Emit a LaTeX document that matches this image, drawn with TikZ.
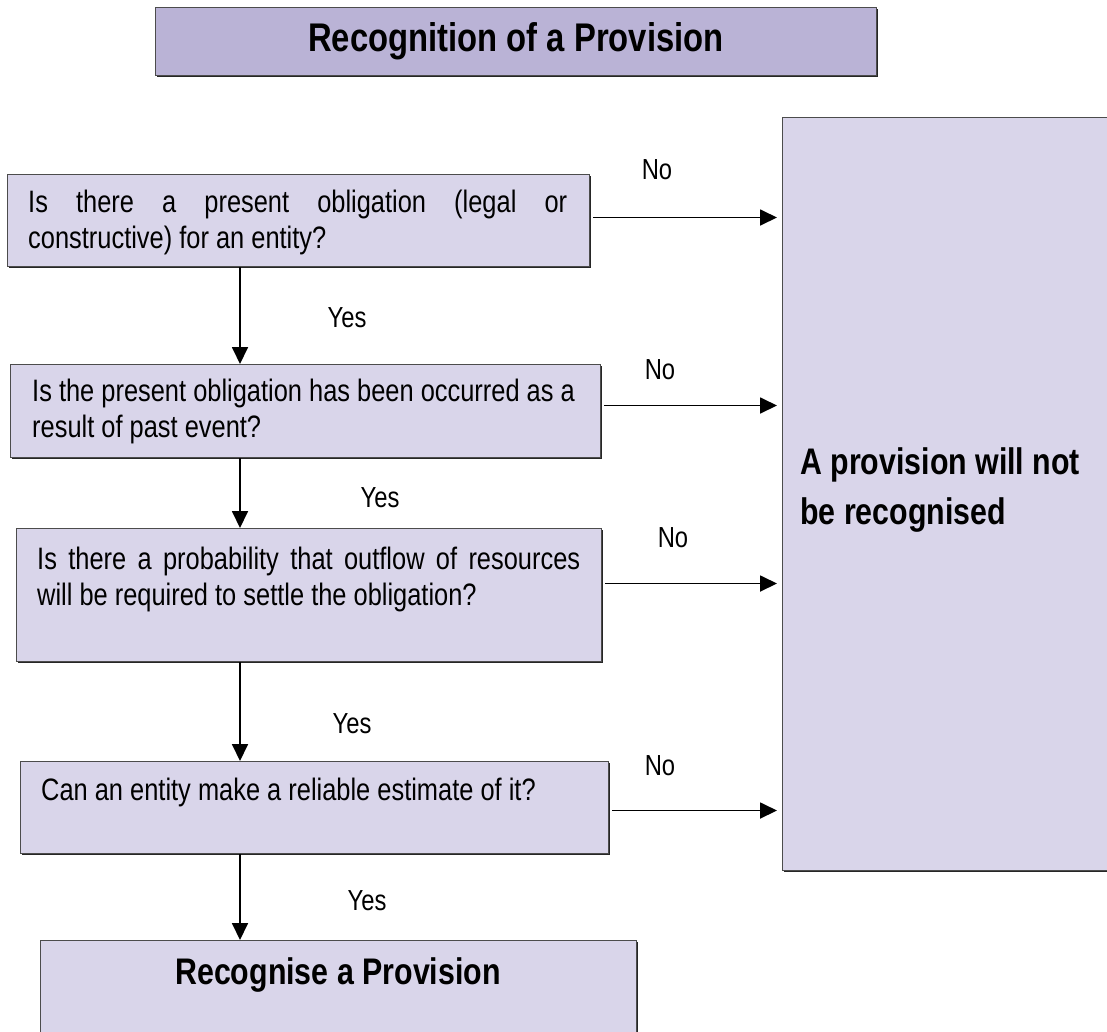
\documentclass[tikz,border=0pt]{standalone}
\usepackage{fontspec}
\setmainfont{Liberation Sans}[FakeStretch=0.82]
\usetikzlibrary{arrows.meta, shadows}
\definecolor{lilac}{HTML}{D9D5EA}
\definecolor{lilacdark}{HTML}{BAB3D6}
\hyphenpenalty=10000

\tikzset{
    box/.style={draw=black!70, line width=1pt, fill=lilac, anchor=north west, inner sep=0pt,
        drop shadow={shadow xshift=1.5pt, shadow yshift=-1.5pt, fill=black!85, opacity=1}},
    question/.style={anchor=west, inner sep=0pt, align=left, font=\fontsize{31}{36}\selectfont},
    answer/.style={inner sep=0pt, font=\fontsize{29}{34}\selectfont},
    flow/.style={-{Triangle[length=17pt, width=16pt]}, line width=1.8pt},
}

\begin{document}
\begin{tikzpicture}[x=1pt, y=-1pt]
    \useasboundingbox (0,0) rectangle (1107,1031);
    \clip (0,0) rectangle (1107,1031);
    \fill[white] (0,0) rectangle (1107,1031);

    % heading
    \node[box, fill=lilacdark, minimum width=721pt, minimum height=68pt] (title) at (155,7) {};
    \node[font=\bfseries\fontsize{40}{46}\selectfont] (titletext) at (title.center) {Recognition of a Provision};

    % outcome on the right
    \node[box, minimum width=360pt, minimum height=753pt] (notrec) at (782,117) {};
    \node[anchor=west, inner sep=0pt, align=left, font=\bfseries\fontsize{37}{50}\selectfont] (notrectext) at (800,490) {A provision will not\\be recognised};

    % the four tests
    \node[box, minimum width=582pt, minimum height=92pt] (q1) at (7,174) {};
    \node[question] (q1text) at (28,222) {\makebox[539pt][s]{Is there a present obligation (legal or}\\constructive) for an entity?};

    \node[box, minimum width=590pt, minimum height=93pt] (q2) at (10,364) {};
    \node[question] (q2text) at (32,411) {Is the present obligation has been occurred as a\\result of past event?};

    \node[box, minimum width=585pt, minimum height=133pt] (q3) at (16,528) {};
    \node[question] (q3text) at (37,579) {\makebox[543pt][s]{Is there a probability that outflow of resources}\\will be required to settle the obligation?};

    \node[box, minimum width=588pt, minimum height=92pt] (q4) at (20,761) {};
    \node[question] (q4text) at (41,792) {Can an entity make a reliable estimate of it?};

    % final result
    \node[box, minimum width=596pt, minimum height=140pt] (result) at (40,940) {};
    \node[font=\bfseries\fontsize{37}{44}\selectfont] (resulttext) at (338,975) {Recognise a Provision};

    % yes path
    \coordinate (spine) at (240,0);
    \draw[flow] (q1.south -| spine) -- (q2.north -| spine);
    \draw[flow] (q2.south -| spine) -- (q3.north -| spine);
    \draw[flow] (q3.south -| spine) -- (q4.north -| spine);
    \draw[flow] (q4.south -| spine) -- (result.north -| spine);
    \node[answer] (yes1) at (347,318) {Yes};
    \node[answer] (yes2) at (380,498) {Yes};
    \node[answer] (yes3) at (352,724) {Yes};
    \node[answer] (yes4) at (367,901) {Yes};

    % no path
    \draw[flow, shorten <=3pt, shorten >=5pt] ([yshift=3pt]q1.east) -- ([yshift=3pt]q1.east -| notrec.west);
    \draw[flow, shorten <=3pt, shorten >=5pt] ([yshift=5.5pt]q2.east) -- ([yshift=5.5pt]q2.east -| notrec.west);
    \draw[flow, shorten <=3pt, shorten >=5pt] ([yshift=11.5pt]q3.east) -- ([yshift=11.5pt]q3.east -| notrec.west);
    \draw[flow, shorten <=3pt, shorten >=5pt] ([yshift=-3pt]q4.east) -- ([yshift=-3pt]q4.east -| notrec.west);
    \node[answer] (no1) at (657,170) {No};
    \node[answer] (no2) at (660,370) {No};
    \node[answer] (no3) at (673,538) {No};
    \node[answer] (no4) at (660,766) {No};
\end{tikzpicture}
\end{document}
